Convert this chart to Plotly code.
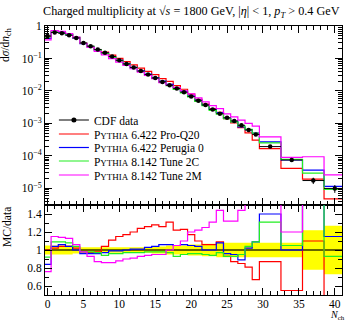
import plotly.graph_objects as go
import numpy as np

# ---- data ----
edges = [-0.5 + i for i in range(31)] + [32.5, 35.5, 38.5, 41.5]
data_vals = [0.49, 0.63, 0.60, 0.52, 0.43, 0.30, 0.24, 0.19, 0.15, 0.115,
             0.088, 0.068, 0.053, 0.041, 0.032, 0.025, 0.019, 0.015, 0.012, 0.0092,
             0.0068, 0.005, 0.0037, 0.0027, 0.002, 0.0015, 0.0012, 0.00088, 0.00063, 0.00046,
             1.94e-4, 7.5e-5, 1.75e-5, 1.0e-5]
data_relerr = [0.05, 0.05, 0.05, 0.05, 0.04, 0.03, 0.03, 0.03, 0.03, 0.03,
               0.03, 0.03, 0.03, 0.03, 0.03, 0.04, 0.04, 0.05, 0.05, 0.05,
               0.06, 0.06, 0.07, 0.07, 0.08, 0.08, 0.08, 0.08, 0.08, 0.08,
               0.08, 0.08, 0.22, 0.27]

ratio_proq20 = [1.0, 1.02, 1.04, 1.04, 1.02, 0.98, 0.97, 0.98, 1.04, 1.11,
                1.15, 1.17, 1.2, 1.24, 1.26, 1.28, 1.26, 1.31, 1.22, 1.23,
                1.17, 1.1, 1.06, 1.06, 1.09, 0.93, 0.87, 0.85, 0.81, 0.67,
                0.87, 0.55, 1.1, 0.48]
ratio_perugia0 = [0.84, 1.04, 1.06, 1.04, 1.0, 0.96, 0.96, 0.96, 0.97, 0.99,
                  0.99, 1.0, 1.01, 1.01, 1.03, 1.04, 1.06, 1.06, 1.05, 1.06,
                  1.05, 1.04, 1.0, 1.0, 1.08, 0.96, 0.95, 0.89, 1.02, 1.09,
                  1.4, 1.0, 2.1, 1.15]
ratio_tune2c = [0.92, 1.09, 1.09, 1.08, 1.04, 0.98, 0.98, 0.97, 0.94, 0.96,
                0.96, 0.97, 0.97, 0.97, 0.98, 0.98, 0.98, 0.97, 0.93, 0.95,
                0.96, 0.96, 0.95, 0.94, 0.97, 0.93, 0.93, 0.95, 1.04, 1.09,
                1.31, 1.05, 1.7, 0.93]
ratio_tune2m = [0.76, 1.15, 1.14, 1.13, 1.06, 0.98, 0.93, 0.87, 0.86, 0.86,
                0.88, 0.9, 0.91, 0.93, 0.94, 0.95, 0.95, 1.0, 1.05, 1.1,
                1.2, 1.22, 1.25, 1.31, 1.44, 1.32, 1.32, 1.44, 1.6, 1.8,
                2.0, 1.2, 5.4, 2.6]

mc_names = ["P<span style='font-size:9px'>YTHIA</span> 6.422 Pro-Q20",
            "P<span style='font-size:9px'>YTHIA</span> 6.422 Perugia 0",
            "P<span style='font-size:9px'>YTHIA</span> 8.142 Tune 2C",
            "P<span style='font-size:9px'>YTHIA</span> 8.142 Tune 2M"]
mc_ratios = [ratio_proq20, ratio_perugia0, ratio_tune2c, ratio_tune2m]
mc_colors = ["#ff0000", "#0000ff", "#22ee22", "#ff00ff"]

edges = np.array(edges)
data_vals = np.array(data_vals)
centers = 0.5 * (edges[:-1] + edges[1:])
halfw = 0.5 * (edges[1:] - edges[:-1])
relerr = np.array(data_relerr)

def step(vals):
    return list(edges), list(vals) + [vals[-1]]

FONT = "Liberation Serif"
fig = go.Figure()

# ratio: yellow band
xs, lo = step(1 - relerr)
_, hi = step(1 + relerr)
fig.add_trace(go.Scatter(x=xs, y=lo, mode="lines", line=dict(width=0, shape="hv"),
                         showlegend=False, xaxis="x2", yaxis="y2", hoverinfo="skip"))
fig.add_trace(go.Scatter(x=xs, y=hi, mode="lines", line=dict(width=0, shape="hv"),
                         fill="tonexty", fillcolor="#ffff00",
                         showlegend=False, xaxis="x2", yaxis="y2", hoverinfo="skip"))
xs, ones = step(np.ones(len(data_vals)))
fig.add_trace(go.Scatter(x=xs, y=ones, mode="lines", line=dict(color="#333300", width=1.5, shape="hv"),
                         showlegend=False, xaxis="x2", yaxis="y2"))

for i, (name, r, c) in enumerate(zip(mc_names, mc_ratios, mc_colors)):
    r = np.array(r)
    mc = r * data_vals
    xs, ys = step(mc)
    fig.add_trace(go.Scatter(x=xs, y=ys, mode="lines", line=dict(color=c, width=1.2, shape="hv"),
                             name=name, legend="legend%d" % (i + 2), xaxis="x", yaxis="y"))
    xs, ys = step(r)
    fig.add_trace(go.Scatter(x=xs, y=ys, mode="lines", line=dict(color=c, width=1.2, shape="hv"),
                             showlegend=False, xaxis="x2", yaxis="y2"))

# data points
fig.add_trace(go.Scatter(x=centers, y=data_vals, mode="markers",
                         marker=dict(color="black", size=4.5),
                         error_x=dict(type="data", array=halfw, color="black", thickness=1, width=0),
                         error_y=dict(type="data", array=data_vals * relerr, color="black", thickness=1, width=0),
                         showlegend=False, xaxis="x", yaxis="y"))
fig.add_trace(go.Scatter(x=[None], y=[None], mode="lines+markers",
                         marker=dict(color="black", size=5), line=dict(color="black", width=1.2),
                         name="CDF data", legend="legend", xaxis="x", yaxis="y"))

split = 90 / 269
axcommon = dict(showline=True, linecolor="black", linewidth=1, mirror="allticks",
                ticks="inside", tickcolor="black", showgrid=False, zeroline=False, automargin=False,
                tickfont=dict(family=FONT, size=11.5, color="black"))
fig.update_layout(
    width=346, height=323,
    margin=dict(l=45, r=4, t=26, b=28),
    paper_bgcolor="white", plot_bgcolor="white",
    font=dict(family=FONT, size=11, color="black"),
    xaxis=dict(range=[-0.35, 41.0], domain=[0, 1], anchor="y", showticklabels=False,
               tick0=0, dtick=5, ticklen=7,
               minor=dict(dtick=1, ticks="inside", ticklen=4, tickcolor="black"), **axcommon),
    yaxis=dict(type="log", range=[-5.51, 0], domain=[split, 1], anchor="x",
               tickvals=[1, 0.1, 0.01, 1e-3, 1e-4, 1e-5],
               ticktext=["1", "10<sup>−1</sup>", "10<sup>−2</sup>", "10<sup>−3</sup>", "10<sup>−4</sup>", "10<sup>−5</sup>"],
               ticklen=7, minor=dict(dtick="D1", ticks="inside", ticklen=4, tickcolor="black"), **axcommon),
    xaxis2=dict(range=[-0.35, 41.0], domain=[0, 1], anchor="y2",
                tick0=0, dtick=5, ticklen=7, ticklabelstandoff=-2,
                minor=dict(dtick=1, ticks="inside", ticklen=4, tickcolor="black"), **axcommon),
    yaxis2=dict(range=[0.5, 1.5], domain=[0, split], anchor="x2",
                tickvals=[0.6, 0.8, 1.0, 1.2, 1.4], ticktext=["0.6", "0.8", "1", "1.2", "1.4"],
                ticklen=7, minor=dict(dtick=0.1, ticks="inside", ticklen=4, tickcolor="black"), **axcommon),
)

leg_y = [120, 134, 147.5, 161, 175]
for i, y in enumerate(leg_y):
    key = "legend" if i == 0 else "legend%d" % (i + 1)
    yp = 1 - (y - 26) / 269
    fig.update_layout({key: dict(x=0.03, xanchor="left", y=yp, yanchor="middle",
                                 bgcolor="rgba(0,0,0,0)", borderwidth=0, itemwidth=30,
                                 font=dict(family=FONT, size=11.5, color="black"),
                                 tracegroupgap=0)})

fig.add_annotation(text="Charged multiplicity at √<i>s</i> = 1800 GeV, |<i>η</i>| < 1, <i>p</i><sub><i>T</i></sub> > 0.4 GeV",
                   xref="paper", yref="paper", x=1, y=1, xanchor="right", yanchor="bottom",
                   yshift=4, showarrow=False, font=dict(family=FONT, size=12.2, color="black"))
fig.add_annotation(text="d<i>σ</i>/d<i>n</i><sub>ch</sub>", xref="paper", yref="paper",
                   x=0, y=1, xanchor="right", yanchor="top", xshift=-30, textangle=-90,
                   showarrow=False, font=dict(family=FONT, size=11.5, color="black"))
fig.add_annotation(text="MC/data", xref="paper", yref="paper",
                   x=0, y=split, xanchor="right", yanchor="top", xshift=-30, textangle=-90,
                   showarrow=False, font=dict(family=FONT, size=11.5, color="black"))
fig.add_annotation(text="<i>N</i><sub>ch</sub>", xref="paper", yref="paper",
                   x=1, y=0, xanchor="right", yanchor="bottom", yshift=-28, xshift=4,
                   borderpad=0, showarrow=False, font=dict(family=FONT, size=10, color="black"))

fig.write_html("out.html", config={"displayModeBar": False})
with open("out.html", "r", encoding="utf-8") as f:
    html = f.read()
html = html.replace("<body>", "<body style=\"margin:0;padding:0;overflow:hidden\">", 1)
html = html.replace("<head>", "<head><style>html,body{margin:0;padding:0;}</style>", 1)
with open("out.html", "w", encoding="utf-8") as f:
    f.write(html)
